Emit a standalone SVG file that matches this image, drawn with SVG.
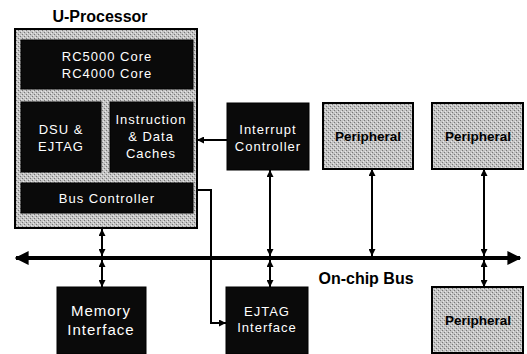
<svg xmlns="http://www.w3.org/2000/svg" width="527" height="354" viewBox="0 0 527 354">
<defs>
<pattern id="stip" width="4" height="4" patternUnits="userSpaceOnUse">
<rect width="4" height="4" fill="#c4c4c4"/>
<rect x="0" y="0" width="1" height="1" fill="#777"/>
<rect x="2" y="2" width="1" height="1" fill="#777"/>
<rect x="3" y="1" width="1" height="1" fill="#e8e8e8"/>
<rect x="1" y="3" width="1" height="1" fill="#e8e8e8"/>
</pattern>
<marker id="ah" viewBox="0 0 10 10" refX="10" refY="5" markerWidth="7" markerHeight="7" markerUnits="userSpaceOnUse" orient="auto-start-reverse">
<path d="M0,0 L10,5 L0,10 z" fill="#000"/>
</marker>
<marker id="bh" viewBox="0 0 10 10" refX="9" refY="5" markerWidth="14" markerHeight="14" markerUnits="userSpaceOnUse" orient="auto-start-reverse">
<path d="M0,0 L10,5 L0,10 z" fill="#000"/>
</marker>
</defs>
<style>
.dk{fill:#0a0a0a;stroke:#000;stroke-width:1}
.gr{fill:url(#stip);stroke:#000;stroke-width:2}
.wt{fill:#fff;font-family:"Liberation Sans",Arial,sans-serif;font-size:13px;letter-spacing:1px;text-anchor:middle}
.wl{fill:#fff;font-family:"Liberation Sans",Arial,sans-serif;font-size:15px;letter-spacing:1px;text-anchor:middle}
.bt{fill:#000;font-family:"Liberation Sans",Arial,sans-serif;font-size:13.5px;font-weight:bold;text-anchor:middle}
.ln{stroke:#000;stroke-width:2;fill:none}
</style>
<rect width="527" height="354" fill="#fff"/>

<g id="uprocessor">
<text x="100" y="22" style="font-family:'Liberation Sans',Arial,sans-serif;font-size:16px;font-weight:bold;text-anchor:middle">U-Processor</text>
<rect class="gr" x="15" y="29" width="182" height="199"/>
</g>
<g id="core">
<rect class="dk" x="21" y="40" width="172" height="49"/>
<text class="wt" x="107" y="61">RC5000 Core</text>
<text class="wt" x="107" y="78">RC4000 Core</text>
</g>
<g id="dsu">
<rect class="dk" x="21" y="102" width="80" height="70"/>
<text class="wt" x="61" y="134">DSU &amp;</text>
<text class="wt" x="61" y="151">EJTAG</text>
</g>
<g id="caches">
<rect class="dk" x="110" y="102" width="83" height="70"/>
<text class="wt" x="151" y="124">Instruction</text>
<text class="wt" x="151" y="141">&amp; Data</text>
<text class="wt" x="151" y="158">Caches</text>
</g>
<g id="buscontroller">
<rect class="dk" x="21" y="183" width="172" height="30"/>
<text class="wt" x="107" y="203">Bus Controller</text>
</g>
<g id="interrupt">
<rect class="dk" x="227" y="103" width="82" height="67"/>
<text class="wt" x="268" y="134">Interrupt</text>
<text class="wt" x="268" y="151">Controller</text>
</g>
<g id="peripheral1">
<rect class="gr" x="323" y="103" width="90" height="66"/>
<text class="bt" x="368" y="141">Peripheral</text>
</g>
<g id="peripheral2">
<rect class="gr" x="432" y="103" width="91" height="66"/>
<text class="bt" x="478" y="141">Peripheral</text>
</g>
<g id="peripheral3">
<rect class="gr" x="432" y="287" width="91" height="66"/>
<text class="bt" x="478" y="325">Peripheral</text>
</g>
<g id="memory">
<rect class="dk" x="57" y="287" width="89" height="67"/>
<text class="wl" x="101" y="316">Memory</text>
<text class="wl" x="101" y="335">Interface</text>
</g>
<g id="ejtag">
<rect class="dk" x="226" y="287" width="82" height="67"/>
<text class="wt" x="267" y="316">EJTAG</text>
<text class="wt" x="267" y="332">Interface</text>
</g>

<g id="connectors">
<line class="ln" x1="16" y1="258" x2="520" y2="258" style="stroke-width:4" marker-start="url(#bh)" marker-end="url(#bh)"/>
<text x="366" y="284" style="font-family:'Liberation Sans',Arial,sans-serif;font-size:16px;font-weight:bold;text-anchor:middle">On-chip Bus</text>
<line class="ln" x1="102" y1="229" x2="102" y2="256" marker-start="url(#ah)" marker-end="url(#ah)"/>
<line class="ln" x1="102" y1="260" x2="102" y2="287" marker-start="url(#ah)" marker-end="url(#ah)"/>
<line class="ln" x1="270" y1="170" x2="270" y2="256" marker-start="url(#ah)" marker-end="url(#ah)"/>
<line class="ln" x1="270" y1="260" x2="270" y2="287" marker-start="url(#ah)" marker-end="url(#ah)"/>
<line class="ln" x1="372" y1="169" x2="372" y2="256" marker-start="url(#ah)" marker-end="url(#ah)"/>
<line class="ln" x1="484" y1="169" x2="484" y2="256" marker-start="url(#ah)" marker-end="url(#ah)"/>
<line class="ln" x1="484" y1="260" x2="484" y2="287" marker-start="url(#ah)" marker-end="url(#ah)"/>
<line class="ln" x1="227" y1="140" x2="197" y2="140" marker-end="url(#ah)"/>
<polyline class="ln" points="197,190 211,190 211,323 226,323" marker-end="url(#ah)"/>
</g>
</svg>
